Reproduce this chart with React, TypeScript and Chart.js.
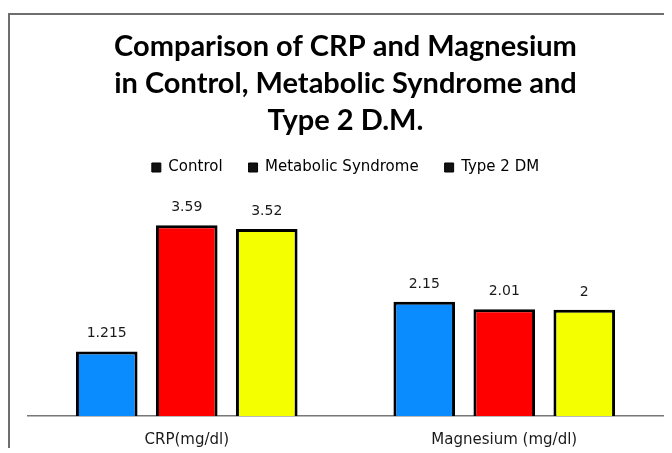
import React, { useEffect, useRef } from "react";
import { Chart, registerables } from "chart.js";

Chart.register(...registerables);

const categories = ["CRP(mg/dl)", "Magnesium (mg/dl)"];
const seriesNames = ["Control", "Metabolic Syndrome", "Type 2 DM"];
const controlValues = [1.215, 2.15];
const metabolicValues = [3.59, 2.01];
const type2Values = [3.52, 2];
const titleLines = ["Comparison of CRP and Magnesium", "in Control, Metabolic Syndrome and", "Type 2 D.M."];

const colors = ["#0a8cff", "#ff0000", "#f4ff00"];

const valueLabels = {
  id: "valueLabels",
  afterDatasetsDraw(chart: any) {
    const ctx = chart.ctx;
    ctx.save();
    ctx.font = "14px 'DejaVu Sans'";
    ctx.fillStyle = "#1a1a1a";
    ctx.textAlign = "center";
    ctx.textBaseline = "alphabetic";
    chart.data.datasets.forEach((ds: any, i: number) => {
      const meta = chart.getDatasetMeta(i);
      meta.data.forEach((el: any, j: number) => {
        ctx.fillText(String(ds.data[j]), el.x, el.y - 14);
      });
    });
    ctx.restore();
  },
};

export default function App() {
  const ref = useRef<HTMLCanvasElement>(null);
  useEffect(() => {
    document.documentElement.style.overflow = "hidden";
    const chart = new Chart(ref.current!, {
      type: "bar",
      data: {
        labels: categories,
        datasets: [controlValues, metabolicValues, type2Values].map((d, i) => ({
          label: seriesNames[i],
          data: d,
          backgroundColor: colors[i],
          borderColor: "#000000",
          borderWidth: 3,
          barPercentage: 0.77,
          categoryPercentage: 0.756,
        })),
      },
      options: {
        responsive: false,
        animation: false,
        layout: { padding: { left: 18, right: 9, top: 0, bottom: 6 } },
        plugins: {
          tooltip: { enabled: false },
          title: {
            display: true,
            text: titleLines,
            color: "#000000",
            font: { family: "Lato", weight: "bold", size: 29, lineHeight: 37 / 29 },
            padding: { top: 13, bottom: -5 },
          },
          legend: {
            display: true,
            labels: {
              color: "#1a1a1a",
              font: { family: "DejaVu Sans", size: 15 },
              boxWidth: 9,
              boxHeight: 9,
              padding: 26,
              generateLabels: (c: any) =>
                c.data.datasets.map((ds: any, i: number) => ({
                  text: ds.label,
                  fillStyle: "#111111",
                  strokeStyle: "#000000",
                  lineWidth: 1,
                  datasetIndex: i,
                  hidden: false,
                })),
            },
          },
        },
        scales: {
          x: {
            grid: { display: false, drawTicks: false },
            border: { display: true, color: "#777777", width: 1.5 },
            ticks: { color: "#1a1a1a", font: { family: "DejaVu Sans", size: 15 }, padding: 15 },
          },
          y: {
            display: false,
            min: 0,
            max: 4.35,
          },
        },
      },
      plugins: [valueLabels],
    });
    return () => chart.destroy();
  }, []);
  return (
    <div
      style={{
        position: "relative",
        top: 5,
        width: 664,
        height: 440,
        boxSizing: "border-box",
        borderTop: "2px solid #6e6e6e",
        borderLeft: "2px solid #6e6e6e",
        background: "#ffffff",
      }}
    >
      <canvas ref={ref} width={662} height={455} style={{ display: "block" }} />
    </div>
  );
}
